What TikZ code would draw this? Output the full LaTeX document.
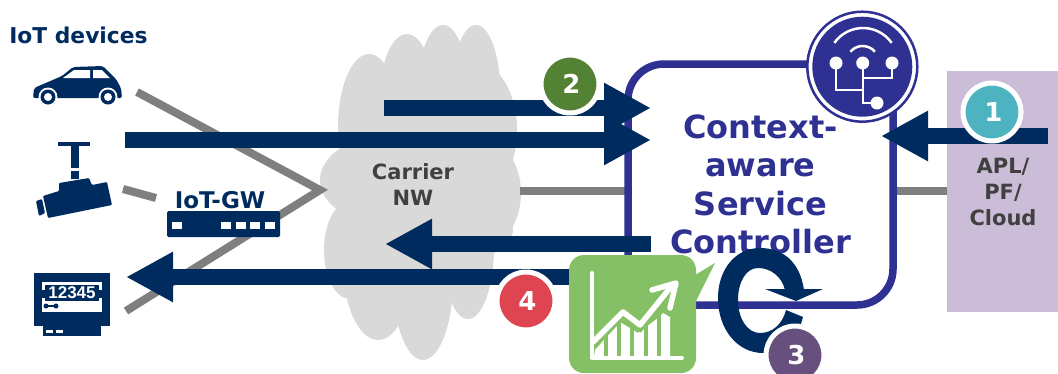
\documentclass[tikz,border=0pt]{standalone}
\usepackage{fontspec}
\setmainfont{DejaVu Sans}
\newfontfamily\digitfont{Liberation Sans}
\usepackage{tikz}
\usetikzlibrary{arrows.meta}
\usetikzlibrary{positioning}

\definecolor{navy}{HTML}{002B5F}
\definecolor{ctrlblue}{HTML}{2E3191}
\definecolor{chartgreen}{HTML}{85C066}
\definecolor{cloudgrey}{HTML}{D9D9D9}
\definecolor{aplpurple}{HTML}{CBBDD7}
\definecolor{linegrey}{HTML}{7F7F7F}
\definecolor{labelgrey}{HTML}{404040}
\definecolor{badgeteal}{HTML}{4DB3C0}
\definecolor{badgegreen}{HTML}{548235}
\definecolor{badgeplum}{HTML}{68507E}
\definecolor{badgered}{HTML}{DE4550}

\tikzset{
  bigarrow/.style={-{Triangle[length=47pt,width=47pt]},line width=16pt,draw=navy},
  greyline/.style={line width=8pt,draw=linegrey},
  badge/.style={circle,draw=white,line width=5pt,minimum size=58pt,inner sep=0pt,
    text=white,font=\fontsize{26}{26}\selectfont\bfseries},
  greylabel/.style={align=center,text=labelgrey,font=\fontsize{21}{26}\selectfont\bfseries},
  navylabel/.style={text=navy,font=\fontsize{21.8}{26}\selectfont\bfseries},
  port/.style={fill=white,minimum width=10pt,minimum height=7pt,inner sep=0pt},
  wiring/.style={white,line width=2pt},
}

\begin{document}
\begin{tikzpicture}[x=1pt, y=-1pt]
\useasboundingbox (0,0) rectangle (1058,373);

% free ends
\coordinate (car-port) at (137,92);
\coordinate (nw-port) at (320,190);
\coordinate (meter-port) at (126,311);
\coordinate (cam-port) at (123,189);
\coordinate (gw-port) at (156,198);
\coordinate (cloud-port) at (520,191);
\coordinate (apl-port) at (947,191);
\coordinate (up-a) at (384,108);
\coordinate (up-a-end) at (651,108);
\coordinate (up-b) at (125,140);
\coordinate (up-b-end) at (651,140);
\coordinate (down-a) at (651,244);
\coordinate (down-a-end) at (385,244);
\coordinate (down-b) at (575,277);
\coordinate (down-b-end) at (126,277);
\coordinate (cloud-in) at (1048,136);
\coordinate (cloud-in-end) at (881,136);

% carrier cloud
\foreach \cx/\cy/\rx/\ry in {369/127/31/73,407/97/27/63,443/90/25/65,476/90/24/65,
    477/130/40/67,383/180/63/43,460/193/61/67,350/250/26/49,378/263/35/77,
    423/280/30/80,468/247/26/72,460/230/53/30}
  \fill [cloudgrey] (\cx,\cy) ellipse [x radius=\rx, y radius=\ry];

\node [greylabel] (carrier) at (413,185) {Carrier\\NW};

\node [fill=aplpurple, minimum width=111pt, minimum height=241pt, inner sep=0pt] (apl) at (1002.5,191.5) {};
\node [greylabel] (apl-text) at (1003,191.5) {APL/\\PF/\\Cloud};

\draw [greyline] (car-port) -- (nw-port) -- (meter-port);
\draw [greyline] (cam-port) -- (gw-port);
\draw [greyline] (cloud-port) -- (628,191);
\draw [greyline] (893,191) -- (apl-port);

\node [draw=ctrlblue, line width=7.5pt, rounded corners=36pt, minimum width=265pt, minimum height=241pt,
  inner sep=0pt, align=center, text=ctrlblue, font=\fontsize{32}{38.5}\selectfont\bfseries]
  (ctrl) at (760.5,184.5) {Context-\\aware\\Service\\Controller};

% hub badge
\node [circle, draw=ctrlblue, fill=white, line width=2.5pt, minimum size=110pt, inner sep=0pt] (hub) at (862.3,66.7) {};
\node [circle, fill=ctrlblue, minimum size=100pt, inner sep=0pt] (hub-disk) at (hub) {};
\draw [white, line width=2.5pt] ([shift={(-35:35)}]863,63) arc [start angle=-35, end angle=-145, radius=35];
\draw [white, line width=2.5pt] ([shift={(-40:16)}]862.7,62) arc [start angle=-40, end angle=-140, radius=16];
\foreach \n/\px/\py in {a/836/63,b/862.7/63,c/892/63,d/877/103}
  \fill [white] (\px,\py) circle [radius=6.5];
\draw [wiring] (836,63) -- (836,90) -- (862.7,90);
\draw [wiring] (862.7,63) -- (862.7,103) -- (877,103);
\draw [wiring] (892,63) -- (892,78) -- (862.7,78);

% arrows
\draw [bigarrow] (up-a) -- (up-a-end);
\draw [bigarrow] (up-b) -- (up-b-end);
\draw [bigarrow] (down-a) -- (down-a-end);
\draw [bigarrow] (down-b) -- (down-b-end);
\draw [bigarrow] (cloud-in) -- (cloud-in-end);

% chart
\fill [chartgreen] (695,275) -- (715,263) -- (695,303) -- cycle;
\node [fill=chartgreen, rounded corners=15pt, minimum width=127pt, minimum height=118pt, inner sep=0pt] (chart) at (632.5,314) {};
\fill [white] (594,357) -- (595,350) -- (620,322) -- (638,333) -- (658,318) -- (663,313) -- (670,317) -- (670,357) -- cycle;
\foreach \gx in {606,619,632,646,659}
  \draw [chartgreen, line width=3.3pt] (\gx,356) -- (\gx,310);
\draw [chartgreen, line width=11pt] (593,342) -- (623,312) -- (640,325) -- (670,288);
\draw [white, line width=5.5pt, line cap=round, line join=round] (593,342) -- (623,312) -- (640,325) -- (670,288);
\draw [white, line width=5.5pt, line cap=round, line join=round] (652,290) -- (676,283) -- (670,308);
\draw [white, line width=4pt, line cap=round, line join=round] (592,273) -- (592,358) -- (682,358);

% loop arrow
\fill [navy] (804,290) .. controls (800,262) and (783,248) .. (760,248)
  .. controls (735,248) and (718,270) .. (718,298)
  .. controls (718,330) and (738,353) .. (763,353)
  .. controls (782,353) and (798,338) .. (803,317)
  -- (786,310) .. controls (782,325) and (772,333) .. (760,333)
  .. controls (747,333) and (738,318) .. (738,300)
  .. controls (738,282) and (746,268) .. (758,268)
  .. controls (771,268) and (782,277) .. (785,290) -- cycle;
\fill [navy] (765,289) -- (823,289) -- (796,301) -- cycle;

\foreach \n/\px/\py/\c in {1/992/112/badgeteal,2/570/84/badgegreen,3/795/355/badgeplum,4/526/301/badgered}
  \node [badge, fill=\c] (badge-\n) at (\px,\py) {\kern3pt\n};

% devices
\node [navylabel] (devices) at (78.5,35) {IoT devices};

% car
\fill [navy, rounded corners=2pt] (33,98) -- (34,88) -- (62,76) -- (73,67) -- (103,66) -- (116,79) -- (121,88) -- (122,98) -- cycle;
\fill [white] (63,78) -- (74,70) -- (90,70) -- (90,78) -- cycle;
\fill [white] (93,70) -- (102,70) -- (110,78) -- (93,78) -- cycle;
\foreach \wx in {48,108} {
  \fill [white] (\wx,97) circle [radius=9.5];
  \fill [navy] (\wx,97) circle [radius=7.5];
  \fill [white] (\wx,97) circle [radius=4];
}

% camera
\fill [navy] (58,142) rectangle (90,146);
\fill [navy] (71,146) rectangle (79,168);
\fill [navy] (71,171) rectangle (79,179);
\fill [navy, rounded corners=1pt] (43,196) -- (59,191) -- (59,183) -- (89,178) -- (92,185) -- (107,182) -- (112,205) -- (48,218) -- cycle;
\fill [navy, rounded corners=1pt] (36,201) -- (42,199) -- (45,213) -- (39,216) -- cycle;

% gateway
\node [navylabel, font=\fontsize{23}{26}\selectfont\bfseries] (gw-text) at (220,200) {IoT-GW};
\node [fill=navy, rounded corners=1.5pt, minimum width=113pt, minimum height=26pt, inner sep=0pt] (gw) at (223.5,224) {};
\foreach \px in {177,226,241,255,270}
  \node [port] (gw-port-\px) at (\px,225) {};

% meter
\fill [navy] (34,273) rectangle (110,326);
\fill [navy] (43,326) rectangle (101,336);
\fill [white] (42,282) rectangle (102,312);
\fill [navy] (45,285) rectangle (99,301);
\fill [navy] (42,290) rectangle (102,298);
\node [text=white, inner sep=0pt, font=\digitfont\fontsize{17}{17}\selectfont\bfseries] (meter-count) at (72,293) {12345};
\draw [navy, line width=1.5pt] (46,306) -- (56,306);
\fill [navy] (46,306) circle [radius=2.5];
\fill [navy] (56,306) circle [radius=2.5];
\fill [white] (46,330) rectangle (53,333);
\fill [white] (56,330) rectangle (63,333);

\end{tikzpicture}
\end{document}
